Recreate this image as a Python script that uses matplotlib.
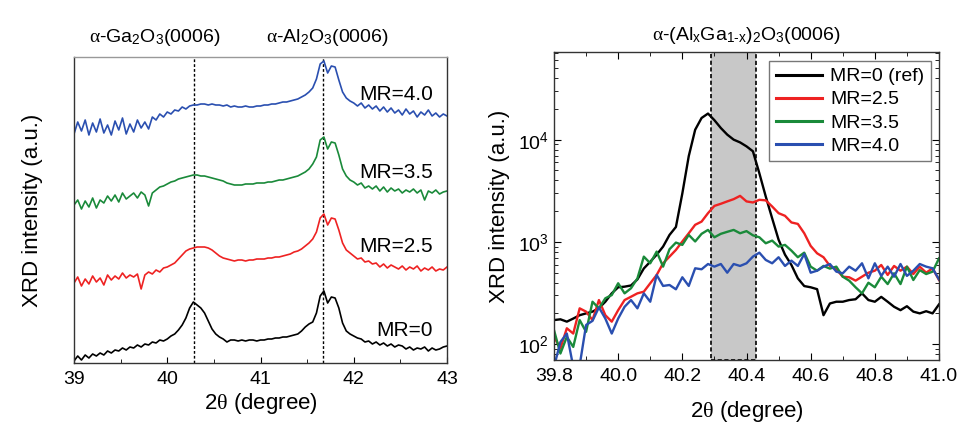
import numpy as np
import matplotlib
matplotlib.use("Agg")
import matplotlib.pyplot as plt
from matplotlib.ticker import MultipleLocator, FormatStrFormatter, LogLocator, NullFormatter
import matplotlib.transforms as mtrans
from matplotlib.patches import Rectangle

plt.rcParams['font.family'] = ['Liberation Sans', 'DejaVu Sans']
plt.rcParams['mathtext.fontset'] = 'custom'
plt.rcParams['mathtext.rm'] = 'Liberation Sans'
plt.rcParams['mathtext.sf'] = 'Liberation Sans'
plt.rcParams['mathtext.it'] = 'Liberation Serif'
plt.rcParams['mathtext.bf'] = 'Liberation Sans:bold'

# ---------------- Left panel data (stacked, offset arbitrary units) ----------------
two_theta_left = np.round(np.arange(39.0, 43.0001, 0.04), 2)

mr0_left = [2, 7, 3, 8, 5, 9, 7, 10, 8, 12,
            10, 13, 12, 15, 13, 16, 15, 18, 16, 19,
            18, 21, 20, 23, 22, 24, 27, 29, 33, 38,
            45, 55, 61, 58, 55, 50, 42, 34, 29, 26,
            24, 21, 23, 23, 22, 23, 22, 23, 23, 22,
            23, 23, 24, 24, 25, 25, 26, 26, 27, 28,
            29, 32, 36, 39, 41, 50, 67, 72, 60, 66,
            65, 55, 40, 32, 29, 27, 25, 24, 21, 22,
            19, 21, 18, 20, 17, 19, 16, 18, 17, 14,
            16, 13, 15, 14, 16, 12, 15, 13, 14, 16,
            17]
mr25_left = [80, 86, 77, 84, 79, 87, 81, 85, 78, 88,
             83, 87, 84, 90, 85, 88, 86, 89, 74, 88,
             91, 89, 93, 91, 95, 96, 98, 100, 104, 108,
             112, 114, 115, 116, 116, 116, 115, 113, 110, 107,
             105, 104, 103, 102, 103, 103, 102, 103, 103, 104,
             104, 104, 105, 105, 106, 106, 107, 108, 109, 111,
             112, 114, 117, 120, 124, 131, 145, 149, 138, 145,
             144, 133, 120, 113, 110, 107, 104, 105, 101, 102,
             99, 100, 96, 99, 95, 98, 96, 94, 97, 93,
             96, 94, 97, 92, 95, 93, 96, 92, 94, 93,
             96]
mr35_left = [158, 163, 154, 162, 156, 165, 155, 163, 160, 167,
             162, 168, 161, 170, 164, 167, 170, 165, 171, 168,
             157, 170, 173, 176, 177, 179, 181, 182, 184, 185,
             186, 187, 188, 188, 187, 187, 186, 185, 184, 183,
             182, 180, 179, 178, 178, 178, 179, 179, 179, 180,
             180, 180, 181, 181, 182, 183, 183, 184, 185, 186,
             187, 189, 191, 194, 199, 206, 223, 226, 214, 221,
             220, 208, 194, 187, 183, 181, 178, 180, 175, 177,
             174, 177, 172, 176, 171, 175, 172, 174, 170, 173,
             171, 174, 170, 173, 163, 172, 170, 173, 169, 171,
             172]
mr40_left = [229, 241, 232, 243, 228, 240, 231, 244, 230, 238,
             228, 242, 233, 245, 229, 239, 231, 243, 235, 241,
             234, 246, 243, 249, 246, 251, 249, 253, 252, 256,
             254, 257, 258, 258, 259, 259, 258, 259, 258, 258,
             257, 258, 256, 257, 256, 256, 257, 256, 256, 257,
             257, 258, 258, 259, 259, 260, 261, 261, 262, 263,
             264, 266, 268, 271, 275, 284, 299, 302, 290, 297,
             296, 283, 271, 265, 262, 260, 257, 260, 255, 258,
             254, 257, 252, 256, 251, 255, 250, 253, 248, 254,
             249, 252, 246, 251, 248, 253, 247, 250, 246, 249,
             247]

left_labels = ['MR=0', 'MR=2.5', 'MR=3.5', 'MR=4.0']
colors = ['#000000', '#ee2222', '#1a8a3a', '#2a4fb0']
ga2o3_pos = 40.29
al2o3_pos = 41.675

# ---------------- Right panel data (log intensity) ----------------
two_theta_right = np.round(np.arange(39.8, 41.0001, 0.02), 2)

mr0_right = [172, 175, 166, 178, 192, 200, 208, 225, 260, 314,
             360, 365, 375, 430, 550, 640, 750, 900, 1170, 1400,
             2980, 6900, 12500, 16300, 18000, 15500, 13000, 11200, 10000, 9400,
             8600, 7700, 4700, 2780, 1700, 1050, 750, 595, 440, 370,
             360, 345, 192, 250, 260, 260, 270, 275, 314, 270,
             260, 290, 260, 232, 215, 235, 208, 200, 210, 200, 245]
mr25_right = [118, 91, 143, 127, 224, 208, 172, 270, 192, 166,
              215, 270, 291, 314, 326, 394, 475, 618, 718, 835,
              1010, 1215, 1470, 1580, 1910, 2250, 2360, 2490, 2620, 2820,
              2490, 2430, 2580, 2550, 2220, 1910, 1800, 1550, 1500, 1215,
              914, 774, 708, 582, 540, 457, 451, 418, 457, 500,
              523, 595, 475, 582, 523, 573, 485, 573, 500, 552, 424]
mr35_right = [137, 81, 118, 94, 172, 132, 260, 224, 281, 302,
              394, 314, 352, 440, 718, 618, 804, 573, 848, 985,
              935, 1170, 1010, 1200, 1310, 1110, 1200, 1255, 1310, 1215,
              1275, 1160, 1110, 970, 1030, 900, 935, 822, 708, 785,
              573, 523, 582, 548, 573, 457, 418, 360, 314, 399,
              360, 457, 387, 493, 387, 573, 424, 530, 485, 512, 690]
mr40_right = [60, 105, 127, 60, 62, 154, 169, 229, 178, 127,
              178, 232, 270, 224, 314, 260, 475, 371, 379, 344,
              451, 371, 552, 540, 608, 573, 608, 500, 608, 582,
              618, 718, 785, 666, 618, 708, 582, 656, 582, 762,
              500, 523, 573, 608, 512, 493, 573, 523, 618, 440,
              618, 465, 573, 457, 608, 465, 523, 608, 573, 552, 430]
right_labels = ['MR=0 (ref)', 'MR=2.5', 'MR=3.5', 'MR=4.0']
band_lo, band_hi = 40.29, 40.43

# ---------------- Figure ----------------
fig = plt.figure(figsize=(9.7, 4.24), dpi=100)
ax1 = fig.add_axes([74/970, 1-363/424, (447-74)/970, (363-57)/424])
ax2 = fig.add_axes([554/970, 1-360/424, (939-554)/970, (360-52)/424])

# Left panel
for ys, c in zip([mr0_left, mr25_left, mr35_left, mr40_left], colors):
    ax1.plot(two_theta_left, ys, color=c, lw=1.2)
for xv in (ga2o3_pos, al2o3_pos):
    ax1.axvline(xv, color='black', lw=1.0, ls=(0, (2, 1.5)), zorder=0)
ax1.set_xlim(39, 43)
ax1.set_ylim(0, 306)
ax1.set_yticks([])
ax1.xaxis.set_major_locator(MultipleLocator(1))
ax1.xaxis.set_minor_locator(MultipleLocator(0.5))
ax1.tick_params(axis='x', which='major', direction='in', length=4, labelsize=14, pad=6)
ax1.tick_params(axis='x', which='minor', direction='in', length=3)
for s in ax1.spines.values():
    s.set_color('#333333')
    s.set_linewidth(1.0)
ax1.spines['top'].set_color('#999999')
ax1.set_xlabel('2$\\theta$ (degree)', fontsize=16, labelpad=2)
ax1.set_ylabel('XRD intensity (a.u.)', fontsize=16, labelpad=22)
label_y = [32, 117, 191, 268]
for lab, yv in zip(left_labels, label_y):
    ax1.text(42.85, yv, lab, fontsize=15, ha='right', va='center')
tr = mtrans.blended_transform_factory(ax1.transData, ax1.transAxes)
ax1.text(39.87, 1.065, '$\\alpha$-Ga$_2$O$_3$(0006)', transform=tr, ha='center', va='center', fontsize=14)
ax1.text(41.72, 1.065, '$\\alpha$-Al$_2$O$_3$(0006)', transform=tr, ha='center', va='center', fontsize=14)

# Right panel
ax2.add_patch(Rectangle((band_lo, 0), band_hi - band_lo, 1,
                        transform=mtrans.blended_transform_factory(ax2.transData, ax2.transAxes),
                        facecolor='#c8c8c8', edgecolor='black', lw=1.2, ls=(0, (2.5, 1.5)), zorder=0))
for ys, c, lab in zip([mr0_right, mr25_right, mr35_right, mr40_right], colors, right_labels):
    ax2.plot(two_theta_right, ys, color=c, lw=1.7, label=lab)
ax2.set_yscale('log')
ax2.set_xlim(39.8, 41.0)
ax2.set_ylim(70, 72000)
ax2.xaxis.set_major_locator(MultipleLocator(0.2))
ax2.xaxis.set_minor_locator(MultipleLocator(0.1))
ax2.xaxis.set_major_formatter(FormatStrFormatter('%.1f'))
ax2.yaxis.set_major_locator(LogLocator(base=10, numticks=10))
ax2.yaxis.set_minor_locator(LogLocator(base=10, subs=np.arange(2, 10), numticks=20))
ax2.yaxis.set_minor_formatter(NullFormatter())
ax2.tick_params(which='both', direction='in', top=True, right=True, labelsize=14)
ax2.tick_params(which='major', length=5)
ax2.tick_params(which='minor', length=3)
ax2.tick_params(axis='x', pad=6)
for s in ax2.spines.values():
    s.set_color('#333333')
    s.set_linewidth(1.0)
ax2.set_xlabel('2$\\theta$ (degree)', fontsize=16, labelpad=10)
ax2.set_ylabel('XRD intensity (a.u.)', fontsize=16, labelpad=6)
ax2.set_title('$\\alpha$-(Al$_\\mathrm{x}$Ga$_{\\mathrm{1}\\text{-}\\mathrm{x}}$)$_2$O$_3$(0006)', fontsize=14, pad=9)
leg = ax2.legend(loc='upper right', bbox_to_anchor=((931-554)/385, (360-61)/308), borderaxespad=0,
                 fontsize=14, handlelength=2.4, handletextpad=0.4, labelspacing=0.28,
                 fancybox=False, edgecolor='#777777', framealpha=1, borderpad=0.35)
for h in leg.get_lines():
    h.set_linewidth(2.2)

fig.savefig('out.png', dpi=100)
